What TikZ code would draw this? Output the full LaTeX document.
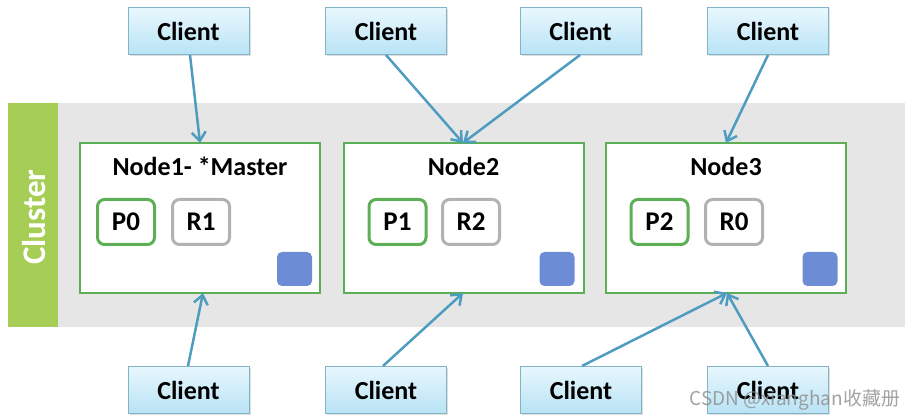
\documentclass[tikz,border=0pt]{standalone}
\usepackage{fontspec}
\setmainfont{Carlito}
\newfontfamily\cjkwm{Noto Sans CJK SC}
\usetikzlibrary{arrows.meta,shadows}
\definecolor{cgreen}{RGB}{92,175,84}
\definecolor{cbar}{RGB}{166,206,87}
\definecolor{cband}{RGB}{230,230,230}
\definecolor{cgrey}{RGB}{178,178,178}
\definecolor{csq}{RGB}{108,140,214}
\definecolor{carrow}{RGB}{78,156,192}
\definecolor{cclborder}{RGB}{130,180,200}
\definecolor{cctop}{RGB}{232,247,253}
\definecolor{ccbot}{RGB}{184,227,245}
\tikzset{
  client/.style={draw=cclborder, line width=1pt, top color=cctop, bottom color=ccbot,
    minimum width=121pt, minimum height=47pt, inner sep=0pt,
    font=\fontsize{26}{26}\selectfont\bfseries,
    drop shadow={shadow xshift=1.5pt, shadow yshift=-1.5pt, opacity=0.25}},
  srv/.style={draw=cgreen, line width=2pt, fill=white, minimum width=240pt, minimum height=150pt, inner sep=0pt},
  title/.style={font=\fontsize{26}{26}\selectfont\bfseries},
  prim/.style={draw=cgreen, line width=3pt, rounded corners=7pt, fill=white, minimum width=57pt, minimum height=45pt, inner sep=0pt, font=\fontsize{27}{27}\selectfont\bfseries},
  repl/.style={prim, draw=cgrey},
  sq/.style={fill=csq, rounded corners=5pt, minimum width=35pt, minimum height=34pt, inner sep=0pt},
  conn/.style={draw=carrow, line width=2.5pt, -{Straight Barb[length=9pt,width=14pt,line width=2.5pt]}}
}
\begin{document}
\begin{tikzpicture}[x=1pt,y=-1pt]
\useasboundingbox (0,0) rectangle (914,419);
% band
\fill[cband] (58,103) rectangle (905,327);
\node[fill=cbar, minimum width=50pt, minimum height=224pt, inner sep=0pt, anchor=north west] (bar) at (8,103) {};
\node[rotate=90, text=white, font=\fontsize{33}{33}\selectfont\bfseries] (clab) at ([xshift=1pt,yshift=-2pt]bar.center) {Cluster};
% servers
\node[srv] (n1) at (200,218) {};
\node[srv] (n2) at (463.5,218) {};
\node[srv] (n3) at (726,218) {};
\node[title] (t1) at (200,166) {Node1- *Master};
\node[title] (t2) at (463.5,166) {Node2};
\node[title] (t3) at (726,166) {Node3};
\node[prim] (p0) at (126,222) {P0};
\node[repl] (r1) at (201,222) {R1};
\node[prim] (p1) at (397.5,222) {P1};
\node[repl] (r2) at (471,222) {R2};
\node[prim] (p2) at (659.5,222) {P2};
\node[repl] (r0) at (734,222) {R0};
\node[sq] (s1) at (294.5,269) {};
\node[sq] (s2) at (557,269) {};
\node[sq] (s3) at (820,269) {};
% clients
\node[client] (ct1) at (188.5,31.5) {Client};
\node[client] (ct2) at (386,31.5) {Client};
\node[client] (ct3) at (580.5,31.5) {Client};
\node[client] (ct4) at (768,31.5) {Client};
\node[client] (cb1) at (188.5,390) {Client};
\node[client] (cb2) at (386,390) {Client};
\node[client] (cb3) at (581,390) {Client};
\node[client] (cb4) at (768,390) {Client};
% anchors on server boxes
\coordinate (n1t) at (200,143);
\coordinate (n2t) at (463,143);
\coordinate (n3t) at (726,143);
\coordinate (n1b) at (203,293);
\coordinate (n2b) at (463,293);
\coordinate (n3b) at (727,293);
\coordinate (ct1s) at (190,55);
\coordinate (ct2s) at (386,55);
\coordinate (ct3s) at (580,55);
\coordinate (ct4s) at (768,55);
\coordinate (cb1s) at (188,366);
\coordinate (cb2s) at (383,366);
\coordinate (cb3s) at (582,366);
\coordinate (cb4s) at (768,366);
\draw[conn] (ct1s) -- (n1t);
\draw[conn] (ct2s) -- (n2t);
\draw[conn] (ct3s) -- (n2t);
\draw[conn] (ct4s) -- (n3t);
\draw[conn] (cb1s) -- (n1b);
\draw[conn] (cb2s) -- (n2b);
\draw[conn] (cb3s) -- (n3b);
\draw[conn] (cb4s) -- (n3b);
% watermark
\node[anchor=west, text=black!45, opacity=0.8, font=\cjkwm\fontsize{19}{19}\selectfont] (wm) at (686,400) {CSDN @xianghan收藏册};
\end{tikzpicture}
\end{document}
